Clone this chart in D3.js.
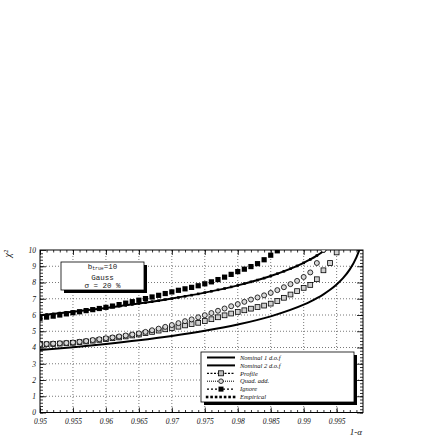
<!DOCTYPE html>
<html><head><meta charset="utf-8">
<script src="https://cdn.jsdelivr.net/npm/d3@7"></script>
<style>body{margin:0;background:#fff}svg{display:block}</style>
</head><body><svg id="c" width="436" height="436"></svg>
<script>
// ---------- data ----------
const xTickValues = [0.95,0.955,0.96,0.965,0.97,0.975,0.98,0.985,0.99,0.995];
const xTickLabels = ["0.95","0.955","0.96","0.965","0.97","0.975","0.98","0.985","0.99","0.995"];
const yTickValues = [0,1,2,3,4,5,6,7,8,9,10];
const yTickLabels = ["0","1","2","3","4","5","6","7","8","9","10"];

// 1-alpha at which the marker series are sampled
const pMarkers = [0.950,0.951,0.952,0.953,0.954,0.955,0.956,0.957,0.958,0.959,
                  0.960,0.961,0.962,0.963,0.964,0.965,0.966,0.967,0.968,0.969,
                  0.970,0.971,0.972,0.973,0.974,0.975,0.976,0.977,0.978,0.979,
                  0.980,0.981,0.982,0.983,0.984,0.985,0.986,0.987,0.988,0.989,
                  0.990,0.991,0.992,0.993,0.994,0.995];

const profile = [4.18,4.20,4.22,4.24,4.26,4.29,4.33,4.37,4.42,4.47,
                 4.52,4.57,4.62,4.68,4.74,4.80,4.88,4.96,5.04,5.12,
                 5.20,5.28,5.36,5.44,5.52,5.63,5.74,5.86,5.98,6.09,
                 6.19,6.29,6.39,6.49,6.58,6.70,6.86,7.06,7.26,7.47,
                 7.67,7.85,8.20,8.75,9.20,9.85];

const quadAdd = [4.20,4.22,4.24,4.26,4.28,4.31,4.35,4.40,4.46,4.51,
                 4.57,4.62,4.68,4.74,4.80,4.87,4.96,5.06,5.16,5.27,
                 5.38,5.50,5.62,5.73,5.86,5.99,6.12,6.26,6.40,6.54,
                 6.67,6.81,6.95,7.08,7.21,7.36,7.53,7.71,7.90,8.10,
                 8.34,8.62,9.20,10.00];

const ignore = [5.80,5.87,5.93,6.00,6.07,6.14,6.20,6.27,6.33,6.40,
                6.47,6.55,6.64,6.73,6.82,6.91,7.01,7.11,7.21,7.32,
                7.42,7.52,7.61,7.70,7.80,7.92,8.04,8.18,8.33,8.50,
                8.67,8.82,8.98,9.16,9.40,9.68,9.95];

const empirical = [5.99,6.03,6.07,6.12,6.16,6.20,6.25,6.29,6.34,6.39,
                   6.44,6.49,6.54,6.59,6.65,6.71,6.76,6.82,6.88,6.95,
                   7.01,7.08,7.15,7.22,7.30,7.38,7.46,7.55,7.63,7.73,
                   7.82,7.93,8.04,8.15,8.27,8.40,8.54,8.69,8.85,9.02,
                   9.21,9.42,9.66,9.92];

const nominal1P = [0.950,0.955,0.960,0.965,0.970,0.975,0.980,0.985,0.990,0.991,0.992,0.993,0.994,0.995,0.996,0.997,0.998,0.9985];
const nominal1V = [3.841,4.020,4.218,4.444,4.709,5.024,5.412,5.916,6.635,6.823,7.034,7.274,7.550,7.879,8.283,8.807,9.550,10.06];
const nominal2P = [0.950,0.955,0.960,0.965,0.970,0.975,0.980,0.985,0.990,0.991,0.992,0.993,0.9935];
const nominal2V = [5.991,6.202,6.438,6.705,7.013,7.378,7.824,8.399,9.210,9.421,9.657,9.924,10.07];

const legendLabels = ["Nominal 1 d.o.f","Nominal 2 d.o.f","Profile","Quad. add.","Ignore","Empirical"];
const titleLines = ["Gauss","\u03c3 = 20 %"];

// ---------- layout ----------
const svg = d3.select("#c");
const L = 40, R = 363, T = 250, B = 412.5;
const x = d3.scaleLinear().domain([0.95, 0.999]).range([L, R]);
const y = d3.scaleLinear().domain([0, 10]).range([B, T]);
const serifIt = "'Liberation Serif','DejaVu Serif',serif";

svg.append("rect").attr("width",436).attr("height",436).attr("fill","#fff");

// grid
const grid = svg.append("g").attr("stroke","#555").attr("stroke-width",0.8).attr("stroke-dasharray","1,2");
grid.selectAll("line.gx").data(xTickValues.slice(1)).join("line")
  .attr("x1",d=>x(d)).attr("x2",d=>x(d)).attr("y1",T).attr("y2",B);
grid.selectAll("line.gy").data(yTickValues.slice(1,-1)).join("line").attr("class","gy")
  .attr("y1",d=>y(d)).attr("y2",d=>y(d)).attr("x1",L).attr("x2",R);

// minor tick values (every 0.001 and 0.2)
const xMinor = pMarkers.concat([0.996,0.997,0.998]);
const yMinor = d3.range(0, 50).map(i => i/5);

function styleAxis(g){ g.select(".domain").remove(); g.selectAll("line").attr("stroke","#000").attr("stroke-width",0.8); }

// bottom
svg.append("g").attr("transform",`translate(0,${B})`)
  .call(d3.axisBottom(x).tickValues(xMinor).tickSize(-2.5).tickFormat("")).call(styleAxis);
svg.append("g").attr("transform",`translate(0,${B})`)
  .call(d3.axisBottom(x).tickValues(xTickValues).tickSize(-5).tickPadding(6.5)
        .tickFormat((d,i)=>xTickLabels[i])).call(styleAxis)
  .selectAll("text").attr("font-family",serifIt).attr("font-style","italic").attr("font-size",7.5).attr("fill","#111");
// top
svg.append("g").attr("transform",`translate(0,${T})`)
  .call(d3.axisTop(x).tickValues(xMinor).tickSize(-2.5).tickFormat("")).call(styleAxis);
svg.append("g").attr("transform",`translate(0,${T})`)
  .call(d3.axisTop(x).tickValues(xTickValues).tickSize(-5).tickFormat("")).call(styleAxis);
// left
svg.append("g").attr("transform",`translate(${L},0)`)
  .call(d3.axisLeft(y).tickValues(yMinor).tickSize(-3).tickFormat("")).call(styleAxis);
svg.append("g").attr("transform",`translate(${L},0)`)
  .call(d3.axisLeft(y).tickValues(yTickValues).tickSize(-6).tickPadding(4)
        .tickFormat((d,i)=>yTickLabels[i])).call(styleAxis)
  .selectAll("text").attr("font-family",serifIt).attr("font-style","italic").attr("font-size",7.5).attr("fill","#111");
// right
svg.append("g").attr("transform",`translate(${R},0)`)
  .call(d3.axisRight(y).tickValues(yMinor).tickSize(-3).tickFormat("")).call(styleAxis);
svg.append("g").attr("transform",`translate(${R},0)`)
  .call(d3.axisRight(y).tickValues(yTickValues).tickSize(-6).tickFormat("")).call(styleAxis);

// frame
svg.append("rect").attr("x",L).attr("y",T).attr("width",R-L).attr("height",B-T)
  .attr("fill","none").attr("stroke","#000").attr("stroke-width",1);

// clip
svg.append("clipPath").attr("id","clip").append("rect").attr("x",L).attr("y",T).attr("width",R-L).attr("height",B-T);
const plot = svg.append("g").attr("clip-path","url(#clip)");

const line = d3.line().x(d=>x(d[0])).y(d=>y(d[1])).curve(d3.curveMonotoneX);
plot.append("path").datum(nominal1P.map((p,i)=>[p,nominal1V[i]])).attr("d",line)
  .attr("fill","none").attr("stroke","#000").attr("stroke-width",2);
plot.append("path").datum(nominal2P.map((p,i)=>[p,nominal2V[i]])).attr("d",line)
  .attr("fill","none").attr("stroke","#000").attr("stroke-width",2);

function squares(vals, size, fill, stroke, sw){
  plot.append("g").selectAll("rect").data(vals.map((v,i)=>[pMarkers[i],v])).join("rect")
    .attr("x",d=>x(d[0])-size/2).attr("y",d=>y(d[1])-size/2)
    .attr("width",size).attr("height",size)
    .attr("fill",fill).attr("stroke",stroke).attr("stroke-width",sw);
}
squares(empirical, 2.6, "#000", "none", 0);
squares(profile, 4.8, "#d0d0d0", "#000", 0.8);
plot.append("g").selectAll("circle").data(quadAdd.map((v,i)=>[pMarkers[i],v])).join("circle")
  .attr("cx",d=>x(d[0])).attr("cy",d=>y(d[1])).attr("r",2.5)
  .attr("fill","#d8d8d8").attr("stroke","#000").attr("stroke-width",0.8);
squares(ignore, 5.2, "#000", "none", 0);

// title box
const tb = {x:61, y:262, w:83, h:28};
svg.append("rect").attr("x",tb.x+3).attr("y",tb.y+3).attr("width",tb.w).attr("height",tb.h).attr("fill","#000");
svg.append("rect").attr("x",tb.x).attr("y",tb.y).attr("width",tb.w).attr("height",tb.h).attr("fill","#fff").attr("stroke","#000").attr("stroke-width",0.8);
const mono = "'Liberation Mono','DejaVu Sans Mono',monospace";
const t0 = svg.append("text").attr("x",tb.x+tb.w/2).attr("y",tb.y+7).attr("text-anchor","middle")
  .attr("font-family",mono).attr("font-size",7.5).attr("fill","#222");
t0.append("tspan").text("b");
t0.append("tspan").attr("font-size",4.8).attr("dy",1.4).text("true");
t0.append("tspan").attr("dy",-1.4).text("=10");
titleLines.forEach((s,i)=>{
  svg.append("text").attr("x",tb.x+tb.w/2).attr("y",tb.y+17.5+i*8.5).attr("text-anchor","middle")
    .attr("font-family",mono).attr("font-size",7.5).attr("fill","#222").text(s);
});

// legend
const lg = {x:201, y:352, w:153, h:50};
svg.append("rect").attr("x",lg.x+3).attr("y",lg.y+3).attr("width",lg.w).attr("height",lg.h).attr("fill","#000");
svg.append("rect").attr("x",lg.x).attr("y",lg.y).attr("width",lg.w).attr("height",lg.h).attr("fill","#fff").attr("stroke","#000").attr("stroke-width",0.8);
const lx0 = 207, lx1 = 235, lxm = 221;
legendLabels.forEach((s,i)=>{
  const yy = 357.5 + i*7.9;
  svg.append("text").attr("x",240).attr("y",yy+2.2).attr("font-family",serifIt).attr("font-style","italic")
    .attr("font-size",6.5).attr("fill","#111").text(s);
  const g = svg.append("g");
  if (i < 2) {
    g.append("line").attr("x1",lx0).attr("x2",lx1).attr("y1",yy).attr("y2",yy).attr("stroke","#000").attr("stroke-width",2);
  } else if (i === 2) {
    g.append("line").attr("x1",lx0).attr("x2",lx1).attr("y1",yy).attr("y2",yy).attr("stroke","#000").attr("stroke-width",1.2).attr("stroke-dasharray","2,1.5");
    g.append("rect").attr("x",lxm-2.5).attr("y",yy-2.5).attr("width",5).attr("height",5).attr("fill","#bbb").attr("stroke","#000").attr("stroke-width",0.8);
  } else if (i === 3) {
    g.append("line").attr("x1",lx0).attr("x2",lx1).attr("y1",yy).attr("y2",yy).attr("stroke","#000").attr("stroke-width",1).attr("stroke-dasharray","1,1");
    g.append("circle").attr("cx",lxm).attr("cy",yy).attr("r",2.3).attr("fill","#ddd").attr("stroke","#000").attr("stroke-width",0.8);
  } else if (i === 4) {
    g.append("line").attr("x1",lx0).attr("x2",lx1).attr("y1",yy).attr("y2",yy).attr("stroke","#000").attr("stroke-width",1.2).attr("stroke-dasharray","2,2");
    g.append("rect").attr("x",lxm-2.5).attr("y",yy-2.5).attr("width",5).attr("height",5).attr("fill","#000");
  } else {
    d3.range(7).forEach(k=>{
      g.append("rect").attr("x",lx0+k*4.5-1.2).attr("y",yy-1.3).attr("width",2.6).attr("height",2.6).attr("fill","#000");
    });
  }
});

// axis titles
svg.append("text").attr("transform","translate(11,250) rotate(-90)").attr("text-anchor","end")
  .attr("font-family",serifIt).attr("font-style","italic").attr("font-size",10).attr("fill","#111")
  .text("\u03c7\u00b2");
svg.append("text").attr("x",R-1).attr("y",435).attr("text-anchor","end")
  .attr("font-family",serifIt).attr("font-style","italic").attr("font-size",9).attr("fill","#111")
  .text("1-\u03b1");
</script>
</body></html>
